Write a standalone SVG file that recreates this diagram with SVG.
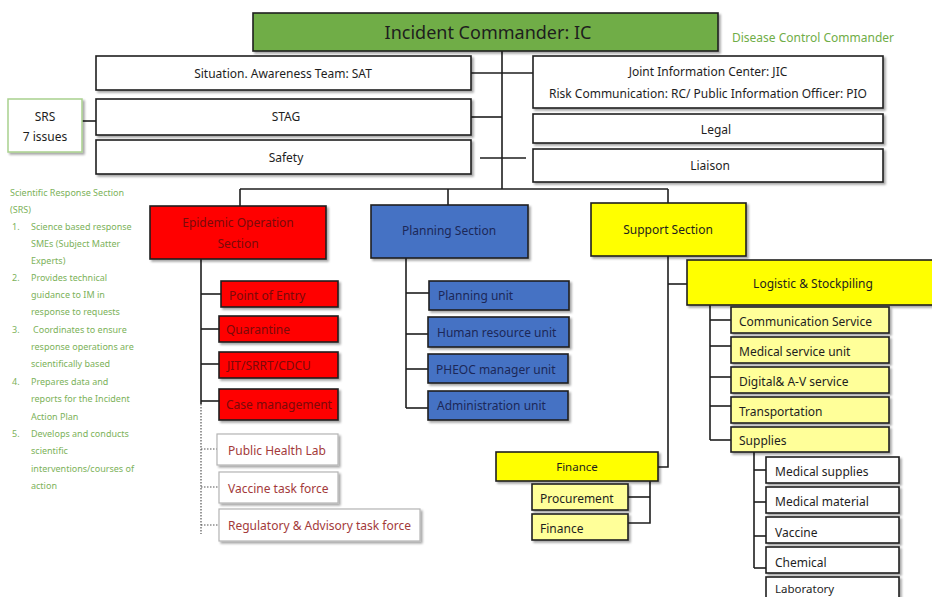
<svg xmlns="http://www.w3.org/2000/svg" width="932" height="597" viewBox="0 0 932 597">
  <defs>
    <filter id="shadow" x="-10%" y="-20%" width="130%" height="160%">
      <feDropShadow dx="2" dy="2" stdDeviation="1.2" flood-color="#000" flood-opacity="0.35"/>
    </filter>
    <style>
      text { font-family: "Noto Sans", "Open Sans", "Liberation Sans", sans-serif; }
      .box { stroke: #1e1e1e; stroke-width: 1.6; filter: url(#shadow); }
      .white { fill: #ffffff; }
      .ic { fill: #70ad47; }
      .red { fill: #ff0000; }
      .blue { fill: #4472c4; }
      .yellow { fill: #ffff00; }
      .ly { fill: #ffff99; }
      .ghost { fill: #ffffff; stroke: #b4b4b4; stroke-width: 1.2; filter: url(#shadow); }
      .srs { fill: #ffffff; stroke: #a9d18e; stroke-width: 1.5; filter: url(#shadow); }
      .t { font-size: 12px; fill: #1e1e1e; text-anchor: middle; dominant-baseline: central; }
      .tl { font-size: 12px; fill: #1e1e1e; dominant-baseline: central; }
      .tr { font-size: 12px; fill: #7a0a0a; dominant-baseline: central; }
      .tb { font-size: 12px; fill: #1c2858; dominant-baseline: central; }
      .tg { font-size: 12px; fill: #a33a3a; dominant-baseline: central; }
      .note { font-size: 9px; fill: #7cb25a; }
      .line { stroke: #1e1e1e; stroke-width: 1.6; fill: none; }
      .dot { stroke: #555; stroke-width: 1.2; stroke-dasharray: 1.5 1.5; fill: none; }
    </style>
  </defs>

  <!-- connectors -->
  <g id="connectors">
    <!-- command staff trunk -->
    <line class="line" x1="502" y1="51" x2="502" y2="189"/>
    <line class="line" x1="471" y1="73" x2="533" y2="73"/>
    <line class="line" x1="471" y1="117" x2="502" y2="117"/>
    <line class="line" x1="480" y1="158" x2="526" y2="158"/>
    <line class="line" x1="82" y1="121" x2="96" y2="121"/>
    <!-- section bus -->
    <line class="line" x1="240" y1="189" x2="668" y2="189"/>
    <line class="line" x1="240" y1="189" x2="240" y2="206"/>
    <line class="line" x1="448" y1="189" x2="448" y2="205"/>
    <line class="line" x1="668" y1="189" x2="668" y2="203"/>
    <!-- epidemic operation -->
    <line class="line" x1="201" y1="259" x2="201" y2="404"/>
    <line class="dot" x1="201" y1="404" x2="201" y2="534"/>
    <line class="line" x1="201" y1="294" x2="221" y2="294"/>
    <line class="line" x1="201" y1="329" x2="219" y2="329"/>
    <line class="line" x1="201" y1="364" x2="219" y2="364"/>
    <line class="line" x1="201" y1="401" x2="219" y2="401"/>
    <line class="dot" x1="201" y1="449" x2="217" y2="449"/>
    <line class="dot" x1="201" y1="487" x2="219" y2="487"/>
    <line class="dot" x1="201" y1="525" x2="219" y2="525"/>
    <!-- planning -->
    <line class="line" x1="406" y1="258" x2="406" y2="408"/>
    <line class="line" x1="406" y1="293" x2="429" y2="293"/>
    <line class="line" x1="406" y1="334" x2="428" y2="334"/>
    <line class="line" x1="406" y1="369" x2="428" y2="369"/>
    <line class="line" x1="406" y1="408" x2="428" y2="408"/>
    <!-- support -->
    <polyline class="line" points="668,256 668,467 658,467"/>
    <line class="line" x1="668" y1="284" x2="687" y2="284"/>
    <!-- finance -->
    <polyline class="line" points="650,481 650,523 628,523"/>
    <line class="line" x1="628" y1="497" x2="650" y2="497"/>
    <!-- logistic -->
    <line class="line" x1="710" y1="305" x2="710" y2="440"/>
    <line class="line" x1="710" y1="320" x2="731" y2="320"/>
    <line class="line" x1="710" y1="346" x2="731" y2="346"/>
    <line class="line" x1="710" y1="377" x2="731" y2="377"/>
    <line class="line" x1="710" y1="406" x2="731" y2="406"/>
    <line class="line" x1="710" y1="440" x2="731" y2="440"/>
    <!-- supplies -->
    <line class="line" x1="754" y1="452" x2="754" y2="568"/>
    <line class="line" x1="754" y1="470" x2="766" y2="470"/>
    <line class="line" x1="754" y1="502" x2="766" y2="502"/>
    <line class="line" x1="754" y1="536" x2="766" y2="536"/>
    <line class="line" x1="754" y1="568" x2="766" y2="568"/>
  </g>

  <!-- command -->
  <g id="ic">
    <rect class="box ic" x="253" y="13" width="465" height="38"/>
    <text class="t" x="488" y="32" style="font-size:18px">Incident Commander: IC</text>
  </g>
  <g id="dcc">
    <text x="732" y="37" style="font-size:12px; fill:#70ad47; dominant-baseline:central">Disease Control Commander</text>
  </g>

  <g id="sat">
    <rect class="box white" x="96" y="56" width="375" height="34"/>
    <text class="t" x="283" y="73">Situation. Awareness Team: SAT</text>
  </g>
  <g id="stag">
    <rect class="box white" x="96" y="99" width="375" height="36"/>
    <text class="t" x="286" y="116">STAG</text>
  </g>
  <g id="safety">
    <rect class="box white" x="96" y="140" width="375" height="34"/>
    <text class="t" x="286" y="157">Safety</text>
  </g>
  <g id="srs">
    <rect class="srs" x="8" y="99" width="74" height="53"/>
    <text class="t" x="45" y="116">SRS</text>
    <text class="t" x="45" y="136">7 issues</text>
  </g>
  <g id="jic">
    <rect class="box white" x="533" y="56" width="350" height="52"/>
    <text class="t" x="708" y="71">Joint Information Center: JIC</text>
    <text class="t" x="708" y="93">Risk Communication: RC/ Public Information Officer: PIO</text>
  </g>
  <g id="legal">
    <rect class="box white" x="533" y="114" width="350" height="29"/>
    <text class="t" x="716" y="129">Legal</text>
  </g>
  <g id="liaison">
    <rect class="box white" x="533" y="149" width="350" height="33"/>
    <text class="t" x="710" y="165">Liaison</text>
  </g>

  <!-- scientific response notes -->
  <g id="srs-notes" class="note">
    <text x="10" y="196">Scientific Response Section</text>
    <text x="10" y="213">(SRS)</text>
    <text x="12" y="230">1.</text><text x="31" y="230">Science based response</text>
    <text x="31" y="247">SMEs (Subject Matter</text>
    <text x="31" y="264">Experts)</text>
    <text x="12" y="281">2.</text><text x="31" y="281">Provides technical</text>
    <text x="31" y="298">guidance to IM in</text>
    <text x="31" y="315">response to requests</text>
    <text x="12" y="333">3.</text><text x="33" y="333">Coordinates to ensure</text>
    <text x="31" y="350">response operations are</text>
    <text x="31" y="367">scientifically based</text>
    <text x="12" y="385">4.</text><text x="31" y="385">Prepares data and</text>
    <text x="31" y="402">reports for the Incident</text>
    <text x="31" y="420">Action Plan</text>
    <text x="12" y="437">5.</text><text x="31" y="437">Develops and conducts</text>
    <text x="31" y="454">scientific</text>
    <text x="31" y="472">interventions/courses of</text>
    <text x="31" y="489">action</text>
  </g>

  <!-- epidemic operation section -->
  <g id="epidemic">
    <rect class="box red" x="150" y="206" width="176" height="53"/>
    <text class="tr" x="238" y="222" text-anchor="middle">Epidemic Operation</text>
    <text class="tr" x="238" y="243" text-anchor="middle">Section</text>
  </g>
  <g id="poe">
    <rect class="box red" x="221" y="281" width="117" height="26"/>
    <text class="tr" x="229" y="295">Point of Entry</text>
  </g>
  <g id="quarantine">
    <rect class="box red" x="219" y="316" width="119" height="26"/>
    <text class="tr" x="226" y="329">Quarantine</text>
  </g>
  <g id="jit">
    <rect class="box red" x="219" y="352" width="119" height="26"/>
    <text class="tr" x="227" y="365">JIT/SRRT/CDCU</text>
  </g>
  <g id="case">
    <rect class="box red" x="219" y="389" width="119" height="31"/>
    <text class="tr" x="226" y="404">Case management</text>
  </g>
  <g id="phl">
    <rect class="ghost" x="217" y="434" width="121" height="31"/>
    <text class="tg" x="228" y="450">Public Health Lab</text>
  </g>
  <g id="vtf">
    <rect class="ghost" x="219" y="472" width="119" height="31"/>
    <text class="tg" x="228" y="488">Vaccine task force</text>
  </g>
  <g id="ratf">
    <rect class="ghost" x="219" y="509" width="201" height="32"/>
    <text class="tg" x="228" y="525">Regulatory &amp; Advisory task force</text>
  </g>

  <!-- planning section -->
  <g id="planning">
    <rect class="box blue" x="371" y="205" width="157" height="53"/>
    <text class="tb" x="449" y="230" text-anchor="middle">Planning Section</text>
  </g>
  <g id="planning-unit">
    <rect class="box blue" x="429" y="281" width="140" height="29"/>
    <text class="tb" x="438" y="295">Planning unit</text>
  </g>
  <g id="hr-unit">
    <rect class="box blue" x="428" y="317" width="141" height="30"/>
    <text class="tb" x="437" y="332">Human resource unit</text>
  </g>
  <g id="pheoc-unit">
    <rect class="box blue" x="428" y="354" width="140" height="29"/>
    <text class="tb" x="436" y="369">PHEOC manager unit</text>
  </g>
  <g id="admin-unit">
    <rect class="box blue" x="428" y="391" width="140" height="29"/>
    <text class="tb" x="437" y="405">Administration unit</text>
  </g>

  <!-- support section -->
  <g id="support">
    <rect class="box yellow" x="591" y="203" width="155" height="53"/>
    <text class="t" x="668" y="229">Support Section</text>
  </g>
  <g id="finance">
    <rect class="box yellow" x="496" y="452" width="162" height="29"/>
    <text class="t" x="577" y="466" style="font-size:11.5px">Finance</text>
  </g>
  <g id="procurement">
    <rect class="box ly" x="532" y="484" width="96" height="26"/>
    <text class="tl" x="540" y="498">Procurement</text>
  </g>
  <g id="finance-unit">
    <rect class="box ly" x="532" y="514" width="96" height="26"/>
    <text class="tl" x="540" y="528">Finance</text>
  </g>
  <g id="logistic">
    <rect class="box yellow" x="687" y="260" width="250" height="45"/>
    <text class="t" x="813" y="283">Logistic &amp; Stockpiling</text>
  </g>
  <g id="comm-service">
    <rect class="box ly" x="731" y="307" width="158" height="26"/>
    <text class="tl" x="739" y="321">Communication Service</text>
  </g>
  <g id="med-service">
    <rect class="box ly" x="731" y="337" width="158" height="26"/>
    <text class="tl" x="739" y="351">Medical service unit</text>
  </g>
  <g id="digital">
    <rect class="box ly" x="731" y="367" width="158" height="26"/>
    <text class="tl" x="739" y="381">Digital&amp; A-V service</text>
  </g>
  <g id="transport">
    <rect class="box ly" x="731" y="397" width="158" height="26"/>
    <text class="tl" x="739" y="411">Transportation</text>
  </g>
  <g id="supplies">
    <rect class="box ly" x="731" y="427" width="158" height="25"/>
    <text class="tl" x="739" y="440">Supplies</text>
  </g>
  <g id="med-supplies">
    <rect class="box white" x="766" y="457" width="133" height="26"/>
    <text class="tl" x="775" y="471">Medical supplies</text>
  </g>
  <g id="med-material">
    <rect class="box white" x="766" y="487" width="133" height="26"/>
    <text class="tl" x="775" y="501">Medical material</text>
  </g>
  <g id="vaccine">
    <rect class="box white" x="766" y="517" width="133" height="26"/>
    <text class="tl" x="775" y="532">Vaccine</text>
  </g>
  <g id="chemical">
    <rect class="box white" x="766" y="547" width="133" height="26"/>
    <text class="tl" x="775" y="562">Chemical</text>
  </g>
  <g id="laboratory">
    <rect class="box white" x="766" y="577" width="133" height="26"/>
    <text class="tl" x="775" y="588" style="font-size:11.5px">Laboratory</text>
  </g>
</svg>
